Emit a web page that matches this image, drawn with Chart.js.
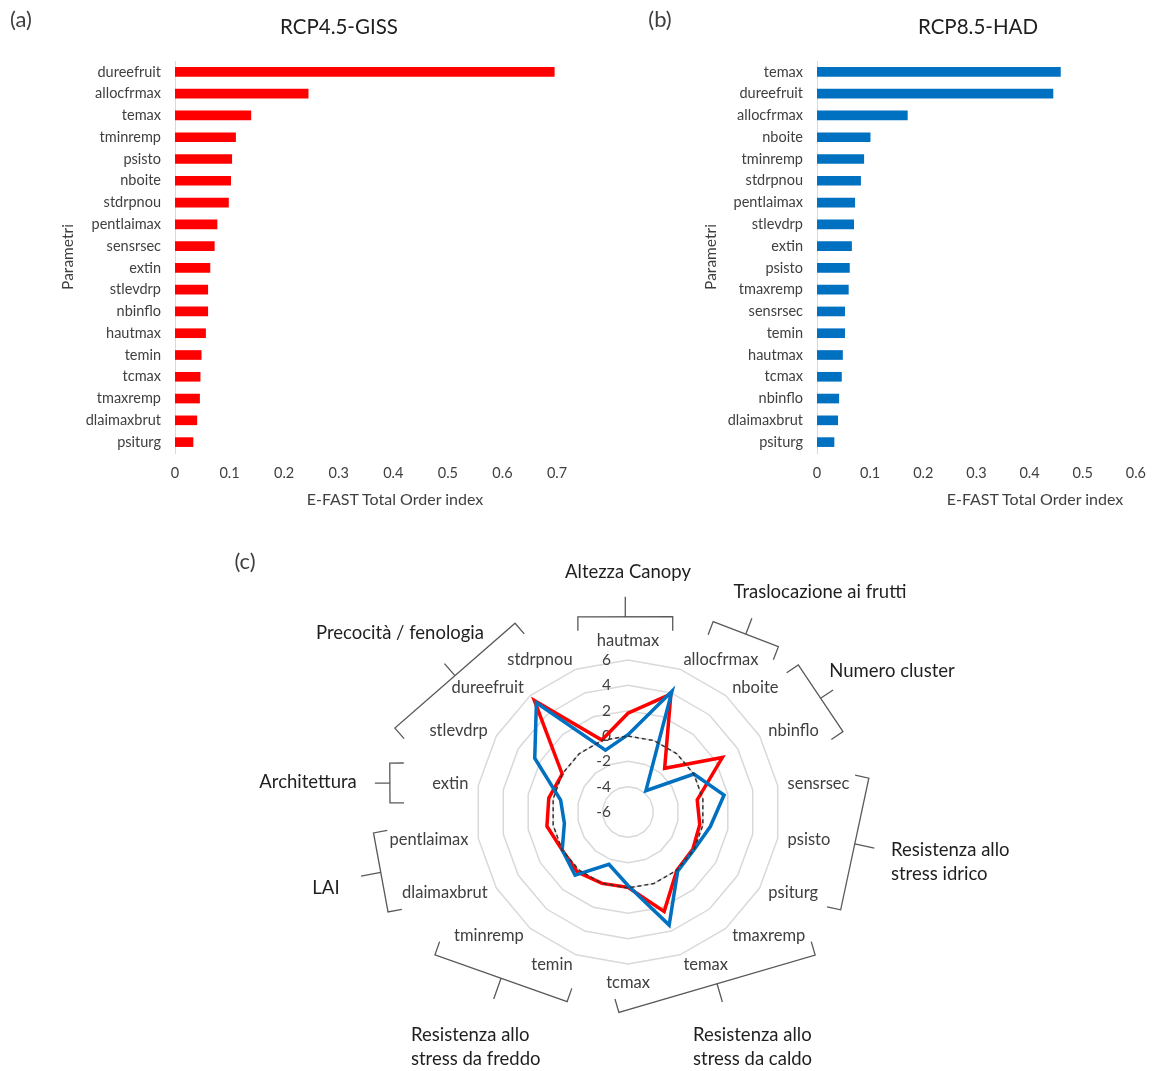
<!DOCTYPE html>
<html>
<head>
<meta charset="utf-8">
<script src="https://cdn.jsdelivr.net/npm/chart.js@4.4.0/dist/chart.umd.min.js"></script>
<style>
  body { margin: 0; background: #fff; font-family: Lato, sans-serif; }
  #wrap { position: relative; width: 1158px; height: 1071px; overflow: hidden; }
  canvas { position: absolute; }
  .txt { position: absolute; white-space: nowrap; transform: translate(-50%, -50%); color: #262626; }
  .panel { font-size: 22px; color: #404040; }
  .title { font-size: 20.5px; color: #1f1f1f; }
  .axt { font-size: 16px; color: #404040; }
</style>
</head>
<body>
<div id="wrap">
  <canvas id="chartA" width="580" height="520" style="left:0;top:0"></canvas>
  <canvas id="chartB" width="578" height="520" style="left:580px;top:0"></canvas>
  <canvas id="chartC" width="1158" height="531" style="left:0;top:540px"></canvas>

  <div class="txt panel" style="left:21px;top:18px">(a)</div>
  <div class="txt title" style="left:339px;top:26px">RCP4.5-GISS</div>
  <div class="txt axt" style="left:395px;top:498px">E-FAST Total Order index</div>

  <div class="txt panel" style="left:660px;top:18px">(b)</div>
  <div class="txt title" style="left:978px;top:26px">RCP8.5-HAD</div>
  <div class="txt axt" style="left:1035px;top:498px">E-FAST Total Order index</div>

  <div class="txt panel" style="left:245px;top:560px">(c)</div>
</div>
<script>
// (a) RCP4.5-GISS, sorted as in the figure
const paramsA = ['dureefruit', 'allocfrmax', 'temax', 'tminremp', 'psisto', 'nboite', 'stdrpnou', 'pentlaimax', 'sensrsec',
  'extin', 'stlevdrp', 'nbinflo', 'hautmax', 'temin', 'tcmax', 'tmaxremp', 'dlaimaxbrut', 'psiturg'];
const valuesA = [0.695, 0.244, 0.139, 0.111, 0.104, 0.102, 0.098, 0.077, 0.072,
  0.064, 0.060, 0.060, 0.056, 0.048, 0.046, 0.045, 0.040, 0.033];

// (b) RCP8.5-HAD
const paramsB = ['temax', 'dureefruit', 'allocfrmax', 'nboite', 'tminremp', 'stdrpnou', 'pentlaimax', 'stlevdrp', 'extin',
  'psisto', 'tmaxremp', 'sensrsec', 'temin', 'hautmax', 'tcmax', 'nbinflo', 'dlaimaxbrut', 'psiturg'];
const valuesB = [0.458, 0.444, 0.170, 0.100, 0.088, 0.082, 0.071, 0.069, 0.065,
  0.061, 0.059, 0.052, 0.052, 0.048, 0.046, 0.041, 0.039, 0.032];

// (c) radar, clockwise from the top
const radarAxes = ['hautmax', 'allocfrmax', 'nboite', 'nbinflo', 'sensrsec', 'psisto', 'psiturg', 'tmaxremp', 'temax',
  'tcmax', 'temin', 'tminremp', 'dlaimaxbrut', 'pentlaimax', 'extin', 'stlevdrp', 'dureefruit', 'stdrpnou'];
const radarGiss = [1.8, 3.9, -1.5, 2.6, -0.45, -0.25, -0.1, 0.0, 2.35,
  -0.05, 0.0, 0.2, 0.0, 0.5, 0.35, 0.0, 5.5, 0.05];
const radarHad = [0.1, 4.15, -3.8, 0.0, 1.7, 0.6, 0.0, 0.1, 3.5,
  -0.2, -1.6, 0.5, 0.0, -0.9, -0.6, 2.5, 5.25, -0.8];
const radarZero = [0, 0, 0, 0, 0, 0, 0, 0, 0, 0, 0, 0, 0, 0, 0, 0, 0, 0];
const radarTicks = [-6, -4, -2, 0, 2, 4, 6];

// parameter groups around the radar (angles in degrees, radii in units of the radar radius)
const groups = [
  { lines: ['Altezza Canopy'], a1: -14.4, r1: 1.326, a2: 12.9, r2: 1.318, tip: 20, tx: 0, ty: -1.579, align: 'center' },
  { lines: ['Traslocazione ai frutti'], a1: 24.1, r1: 1.372, a2: 42.3, r2: 1.47, tip: 17, tx: 1.263, ty: -1.447, align: 'center' },
  { lines: ['Numero cluster'], a1: 49.2, r1: 1.48, a2: 69.5, r2: 1.51, tip: 15, tx: 1.737, ty: -0.928, align: 'center' },
  { lines: ['Resistenza allo', 'stress idrico'], a1: 82, r1: 1.60, a2: 114.7, r2: 1.54, tip: 20, tx: 1.73, ty: 0.25, align: 'left' },
  { lines: ['Resistenza allo', 'stress da caldo'], a1: 127.4, r1: 1.55, a2: 182.6, r2: 1.32, tip: 19, tx: 0.428, ty: 1.467, align: 'left' },
  { lines: ['Resistenza allo', 'stress da freddo'], a1: 197.8, r1: 1.31, a2: 233.5, r2: 1.58, tip: 22, tx: -1.428, ty: 1.467, align: 'left' },
  { lines: ['LAI'], a1: 247.4, r1: 1.71, a2: 265.3, r2: 1.68, tip: 20, tx: -1.987, ty: 0.5, align: 'center' },
  { lines: ['Architettura'], a1: 272.2, r1: 1.567, a2: 281.6, r2: 1.60, tip: 15, tx: -2.105, ty: -0.197, align: 'center' },
  { lines: ['Precocità / fenologia'], a1: 289.8, r1: 1.63, a2: 329.1, r2: 1.447, tip: 16, tx: -1.5, ty: -1.178, align: 'center' }
];

Chart.defaults.font.family = 'Lato, sans-serif';
Chart.defaults.color = '#404040';
Chart.defaults.animation = false;

function barChart(id, labels, values, color, xMax, padLeft, yWidth, padRight) {
  return new Chart(document.getElementById(id), {
    type: 'bar',
    data: {
      labels: labels,
      datasets: [{ data: values, backgroundColor: color, barThickness: 9 }]
    },
    options: {
      indexAxis: 'y',
      responsive: false,
      layout: { padding: { left: padLeft, right: padRight, top: 61, bottom: 27 } },
      plugins: { legend: { display: false }, tooltip: { enabled: false } },
      scales: {
        x: {
          min: 0, max: xMax,
          ticks: { stepSize: 0.1, padding: 12, font: { size: 14.5 } },
          grid: { display: false, drawTicks: false },
          border: { display: false },
          afterFit: s => { s.height = 40; }
        },
        y: {
          ticks: { padding: 14, font: { size: 14.5 } },
          grid: { display: false, drawTicks: false },
          border: { display: true, color: '#D9D9D9', width: 1 },
          title: { display: true, text: 'Parametri', font: { size: 15.5 }, color: '#404040', padding: { top: 2, bottom: 2 } },
          afterFit: s => { s.width = yWidth; }
        }
      }
    }
  });
}

barChart('chartA', paramsA, valuesA, '#FF0000', 0.7, 57, 118, 23);
barChart('chartB', paramsB, valuesB, '#0070C0', 0.6, 120, 117, 18);

// tick values, axis names, braces and group names for the radar
const radarExtras = {
  id: 'radarExtras',
  beforeDatasetsDraw(chart) {
    const s = chart.scales.r;
    const ctx = chart.ctx;
    ctx.save();
    ctx.font = '15.5px Lato, sans-serif';
    ctx.fillStyle = '#404040';
    ctx.textAlign = 'right';
    ctx.textBaseline = 'middle';
    radarTicks.forEach(v => {
      const p = s.getPointPositionForValue(0, v);
      ctx.fillText(String(v), p.x - 17, p.y);
    });

    // axis names: Excel style, side labels centred on their spoke
    ctx.font = '16.5px Lato, sans-serif';
    radarAxes.forEach((name, i) => {
      const p = s.getPointPosition(i, s.drawingArea + 10);
      const a = s.getIndexAngle(i);
      const sin = Math.sin(a), cos = Math.cos(a);
      let y = p.y;
      if (Math.abs(sin) < 0.01) {
        ctx.textAlign = 'center';
        y -= cos * 9;
      } else {
        ctx.textAlign = sin > 0 ? 'left' : 'right';
      }
      ctx.fillText(name, p.x, y);
    });
    ctx.restore();
  },
  afterDraw(chart) {
    const s = chart.scales.r;
    const ctx = chart.ctx;
    const cx = s.xCenter, cy = s.yCenter, R = s.drawingArea;
    const pt = (a, r) => {
      const t = a * Math.PI / 180;
      return { x: cx + r * R * Math.sin(t), y: cy - r * R * Math.cos(t) };
    };
    ctx.save();
    ctx.strokeStyle = '#595959';
    ctx.lineWidth = 1.3;
    groups.forEach(g => {
      const A = pt(g.a1, g.r1), B = pt(g.a2, g.r2);
      let ux = B.x - A.x, uy = B.y - A.y;
      const len = Math.hypot(ux, uy);
      ux /= len; uy /= len;
      let nx = -uy, ny = ux;
      const mx = (A.x + B.x) / 2, my = (A.y + B.y) / 2;
      if ((mx - cx) * nx + (my - cy) * ny < 0) { nx = -nx; ny = -ny; }
      const hook = 14;
      ctx.beginPath();
      ctx.moveTo(A.x - nx * hook, A.y - ny * hook);
      ctx.lineTo(A.x, A.y);
      ctx.lineTo(B.x, B.y);
      ctx.lineTo(B.x - nx * hook, B.y - ny * hook);
      ctx.moveTo(mx, my);
      ctx.lineTo(mx + nx * g.tip, my + ny * g.tip);
      ctx.stroke();
    });
    ctx.font = '18.5px Lato, sans-serif';
    ctx.fillStyle = '#1f1f1f';
    ctx.textBaseline = 'middle';
    groups.forEach(g => {
      ctx.textAlign = g.align;
      g.lines.forEach((line, i) => {
        ctx.fillText(line, cx + g.tx * R, cy + g.ty * R + i * 24);
      });
    });
    ctx.restore();
  }
};

new Chart(document.getElementById('chartC'), {
  type: 'radar',
  data: {
    labels: radarAxes,
    datasets: [
      { label: 'RCP4.5-GISS', data: radarGiss, borderColor: '#FF0000', borderWidth: 3.5, order: 2 },
      { label: 'RCP8.5-HAD', data: radarHad, borderColor: '#0070C0', borderWidth: 3.5, order: 1 },
      { label: 'zero', data: radarZero, borderColor: '#333333', borderWidth: 1.5, borderDash: [4, 3], order: 0 }
    ]
  },
  options: {
    responsive: false,
    layout: { padding: { left: 200, right: 102, top: 120, bottom: 107 } },
    elements: { point: { radius: 0 }, line: { fill: false, tension: 0 } },
    plugins: { legend: { display: false }, tooltip: { enabled: false } },
    scales: {
      r: {
        min: -6, max: 6,
        ticks: { display: false, stepSize: 2 },
        grid: { color: '#D9D9D9', lineWidth: 1.5, circular: false },
        angleLines: { display: false },
        pointLabels: { display: false }
      }
    }
  },
  plugins: [radarExtras]
});
</script>
</body>
</html>
